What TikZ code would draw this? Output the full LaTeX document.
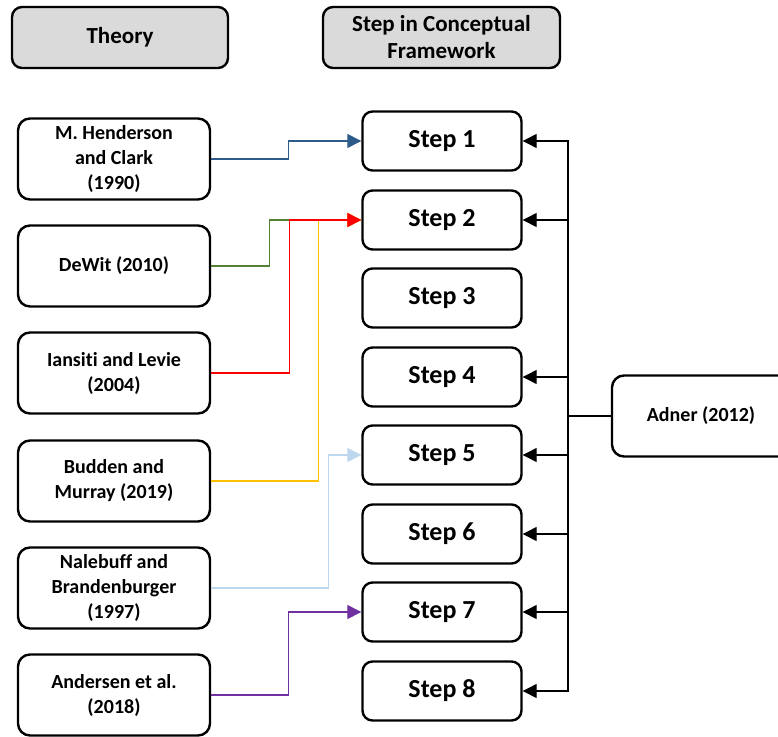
\documentclass[tikz,border=0pt]{standalone}
\usepackage{fontspec}
\setmainfont{Carlito}[Ligatures=NoCommon]
\usetikzlibrary{arrows.meta}
\definecolor{hdrgray}{HTML}{DADADA}
\definecolor{cblue}{HTML}{2E5C8A}
\definecolor{cgreen}{HTML}{548235}
\definecolor{cred}{HTML}{FF0000}
\definecolor{cyellow}{HTML}{FFC000}
\definecolor{clblue}{HTML}{BDD7EE}
\definecolor{cpurple}{HTML}{7030A0}
\begin{document}
\begin{tikzpicture}[x=1pt,y=-1pt,
  hdr/.style={draw, line width=2.4pt, rounded corners=10pt, fill=hdrgray, align=center,
    font=\bfseries\fontsize{23}{27}\selectfont, minimum height=61pt, inner sep=0pt},
  theorybox/.style={draw, line width=2.4pt, rounded corners=12pt, align=center,
    font=\bfseries\fontsize{20}{25}\selectfont, minimum width=192pt, minimum height=81pt, inner sep=0pt},
  stepbox/.style={draw, line width=2.4pt, rounded corners=10pt, align=center,
    font=\bfseries\fontsize{26}{30}\selectfont, minimum width=159pt, minimum height=59pt, inner sep=0pt},
  conn/.style={line width=1.3pt, -{Triangle[length=14pt,width=14pt]}},
  busline/.style={line width=1.3pt, black},
]
\useasboundingbox (0,0) rectangle (778,736);

% headers
\node[hdr, minimum width=216pt] (th) at (120,37.5) {Theory};
\node[hdr, minimum width=237pt] (sh) at (441.5,37.5) {Step in Conceptual\\Framework};

% theory boxes
\node[theorybox] (h) at (114,159) {M. Henderson\\and Clark\\(1990)};
\node[theorybox] (d) at (114,266) {DeWit (2010)};
\node[theorybox] (i) at (114,373) {Iansiti and Levie\\(2004)};
\node[theorybox] (b) at (114,481) {Budden and\\Murray (2019)};
\node[theorybox] (n) at (114,588) {Nalebuff and\\Brandenburger\\(1997)};
\node[theorybox] (an) at (114,695) {Andersen et al.\\(2018)};

% step boxes
\node[stepbox] (s1) at (442,141) {Step 1};
\node[stepbox] (s2) at (442,220) {Step 2};
\node[stepbox] (s3) at (442,298) {Step 3};
\node[stepbox] (s4) at (442,377) {Step 4};
\node[stepbox] (s5) at (442,455) {Step 5};
\node[stepbox] (s6) at (442,534) {Step 6};
\node[stepbox] (s7) at (442,612) {Step 7};
\node[stepbox] (s8) at (442,691) {Step 8};

% Adner
\node[theorybox, minimum width=178pt] (ad) at (701,416) {Adner (2012)};

% theory connectors
\draw[conn, cblue] (h.east) -- ++(77,0) |- (s1.west);
\draw[conn, cgreen] (d.east) -- ++(58,0) |- (s2.west);
\draw[conn, cyellow] (b.east) -- ++(107,0) |- (s2.west);
\draw[conn, cred] (i.east) -- ++(78,0) |- (s2.west);
\draw[conn, clblue] (n.east) -- ++(117,0) |- (s5.west);
\draw[conn, cpurple] (an.east) -- ++(77,0) |- (s7.west);

% Adner bus
\coordinate (bus) at (568,416);
\draw[busline] (ad.west) -- (bus);
\foreach \s in {s1,s2,s4,s5,s6,s7,s8}{
  \draw[conn, black] (bus) |- (\s.east);
}
\end{tikzpicture}
\end{document}
